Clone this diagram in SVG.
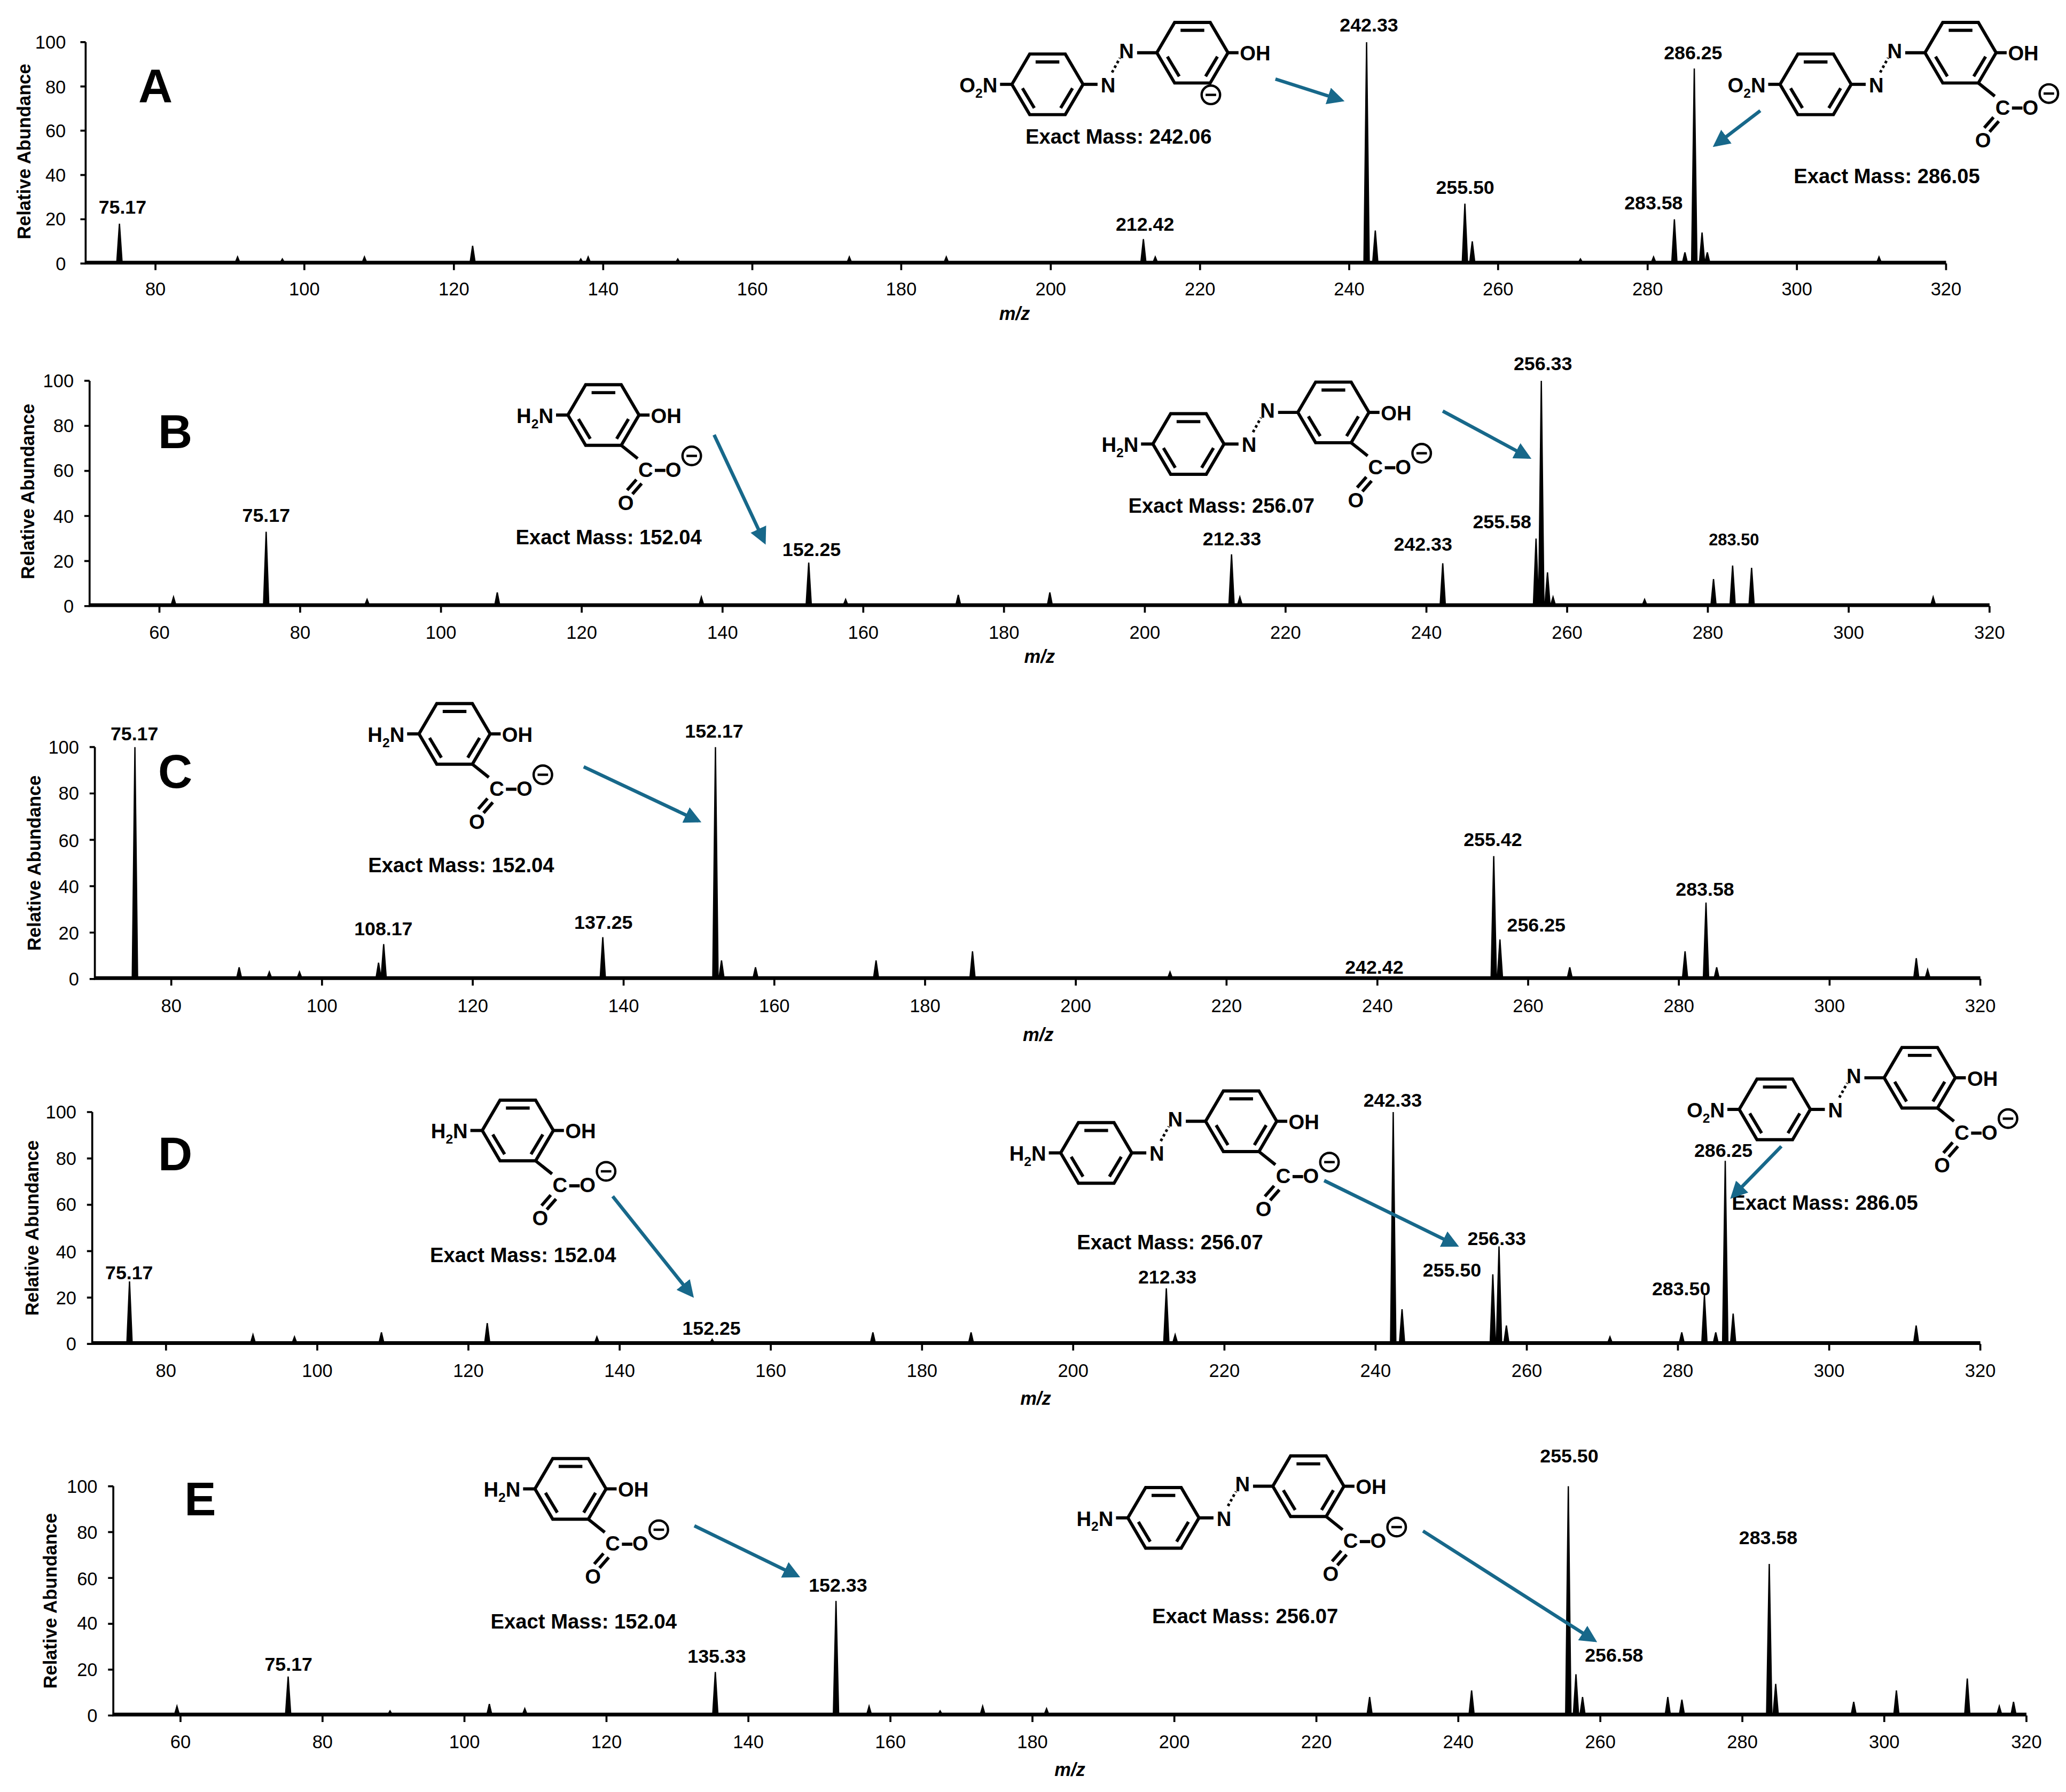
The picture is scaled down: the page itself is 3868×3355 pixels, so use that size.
<svg xmlns="http://www.w3.org/2000/svg" xmlns:xlink="http://www.w3.org/1999/xlink" width="3868" height="3355" viewBox="0 0 3868 3355">
<style>
text{font-family:"Liberation Sans",Arial,sans-serif;fill:#000}
.lb{font-size:14.5px;font-weight:bold;text-anchor:middle}
.tk{font-size:14px;text-anchor:middle}
.yt{font-size:14px;text-anchor:end}
.ax{font-size:14px;font-weight:bold}
.pl{font-size:36px;font-weight:bold}
.at{font-size:15.5px;font-weight:bold}
.ax2{stroke:#000;stroke-width:1.5;fill:none}
.bl{stroke:#000;stroke-width:2.2;fill:none}
.pk{fill:#000;stroke:#000;stroke-width:1}
.bd{stroke:#000;stroke-width:2.4;fill:none}
.arr{stroke:#17688a;stroke-width:2.6;fill:none;marker-end:url(#ah)}
</style>
<defs>
<marker id="ah" viewBox="0 0 10 10" refX="8" refY="5" markerWidth="5" markerHeight="5" orient="auto" markerUnits="strokeWidth"><path d="M0,0 L10,5 L0,10 z" fill="#17688a"/></marker>
<g id="ring"><polygon points="-27,0 -13.5,-23 13.5,-23 27,0 13.5,23 -13.5,23" class="bd"/><path d="M-9,-17 L9,-17 M-19,3 L-10,18 M19,3 L10,18" class="bd"/></g>
<g id="minus"><circle r="7" fill="none" stroke="#000" stroke-width="1.8"/><path d="M-4,0 L4,0" stroke="#000" stroke-width="1.8"/></g>
<g id="sal">
<use xlink:href="#ring"/>
<path d="M27,0 L35,0" class="bd"/><text x="36" y="6" class="at">OH</text>
<path d="M13.5,23 L26,33" class="bd"/>
<text x="32" y="47" class="at" text-anchor="middle">C</text>
<path d="M39,42 L47,42" class="bd"/>
<text x="53" y="47" class="at" text-anchor="middle">O</text>
<use xlink:href="#minus" x="67" y="31"/>
<path d="M25,49 L18,57 M29,52 L22,60" class="bd" stroke-width="1.6"/>
<text x="17" y="72" class="at" text-anchor="middle">O</text>
</g>
<g id="azo">
<use xlink:href="#ring" x="-110" y="24"/>
<path d="M-83,24 L-72,24" class="bd"/>
<text x="-64" y="30" class="at" text-anchor="middle">N</text>
<path d="M-61,15 L-55,4" stroke="#000" stroke-width="2" stroke-dasharray="2,2"/>
<text x="-50" y="4" class="at" text-anchor="middle">N</text>
<path d="M-42,0 L-27,0" class="bd"/>
<path d="M-137,24 L-146,24" class="bd"/>
</g>
</defs>
<rect width="3868" height="3355" fill="#fff"/>
<g transform="scale(2.4668)">
<!-- Panel A -->
<g id="panelA">
<path d="M65,32 L65,200 L1477,200" class="ax2"/>
<g class="tk"><text x="118" y="224">80</text><text x="231" y="224">100</text><text x="344.5" y="224">120</text><text x="457.8" y="224">140</text><text x="571" y="224">160</text><text x="684" y="224">180</text><text x="797.5" y="224">200</text><text x="910.8" y="224">220</text><text x="1024" y="224">240</text><text x="1137" y="224">260</text><text x="1250.5" y="224">280</text><text x="1363.8" y="224">300</text><text x="1477" y="224">320</text></g>
<path d="M118,200v5M231,200v5M344.5,200v5M457.8,200v5M571,200v5M684,200v5M797.5,200v5M910.8,200v5M1024,200v5M1137,200v5M1250.5,200v5M1363.8,200v5M1477,200v5M65,200h-4M65,166.4h-4M65,132.8h-4M65,99.2h-4M65,65.6h-4M65,32h-4" class="ax2"/>
<g class="yt"><text x="50" y="205">0</text><text x="50" y="171">20</text><text x="50" y="138">40</text><text x="50" y="104">60</text><text x="50" y="71">80</text><text x="50" y="37">100</text></g>
<text class="ax" transform="translate(23,115) rotate(-90)" text-anchor="middle">Relative Abundance</text>
<text class="ax" x="770" y="243" text-anchor="middle" font-style="italic">m/z</text>
<text class="pl" x="105" y="78">A</text>
<path d="M65,199 L1477,199" class="bl"/>
<path class="pk" d="M88.6,200L90.65,169.8L92.7,200ZM178.3,200L180.3,195L182.3,200ZM212.3,200L214.3,196.6L216.3,200ZM274.6,200L276.6,195L278.6,200ZM356.7,200L358.7,186.6L360.7,200ZM438.8,200L440.8,196.6L442.8,200ZM444.4,200L446.4,195L448.4,200ZM512.4,200L514.4,196.6L516.4,200ZM642.6,200L644.6,195L646.6,200ZM716.2,200L718.2,195L720.2,200ZM865.8,200L867.8,181.5L869.8,200ZM874.8,200L876.8,195L878.8,200ZM1035.2,200L1037.2,32L1039.2,200ZM1041.8,200L1043.8,175L1045.8,200ZM1109.8,200L1111.8,154.6L1113.8,200ZM1115.4,200L1117.4,183.2L1119.4,200ZM1197.5,200L1199.5,196.6L1201.5,200ZM1253,200L1255,195L1257,200ZM1268.8,200L1270.8,166.4L1272.8,200ZM1276.8,200L1278.8,191.6L1280.8,200ZM1283.9,200L1285.9,52L1287.9,200ZM1289.8,200L1291.8,176.5L1293.8,200ZM1293.8,200L1295.8,191.6L1297.8,200ZM1424.1,200L1426.1,195L1428.1,200Z"/>
<g class="lb"><text x="93" y="162">75.17</text><text x="869" y="175">212.42</text><text x="1039" y="24">242.33</text><text x="1112" y="147">255.50</text><text x="1255" y="159">283.58</text><text x="1285" y="45">286.25</text></g>
<use xlink:href="#ring" x="905" y="40"/>
<path d="M932,40 L940,40" class="bd"/><text x="941" y="46" class="at">OH</text>
<use xlink:href="#minus" x="919" y="72"/>
<use xlink:href="#ring" x="795" y="64"/>
<path d="M822,64 L833,64" class="bd"/><text x="841" y="70" class="at" text-anchor="middle">N</text>
<path d="M844,55 L850,44" stroke="#000" stroke-width="2" stroke-dasharray="2,2"/>
<text x="855" y="44" class="at" text-anchor="middle">N</text>
<path d="M863,40 L878,40" class="bd"/>
<path d="M768,64 L759,64" class="bd"/>
<text x="757" y="70" class="at" text-anchor="end">O<tspan font-size="10" dy="4">2</tspan><tspan dy="-4">N</tspan></text>
<text x="849" y="109" class="at" text-anchor="middle">Exact Mass: 242.06</text>
<path d="M968,60 L1018,76" class="arr"/>
<use xlink:href="#sal" x="1488" y="40"/><use xlink:href="#azo" x="1488" y="40"/>
<text x="1340" y="70" class="at" text-anchor="end">O<tspan font-size="10" dy="4">2</tspan><tspan dy="-4">N</tspan></text>
<text x="1432" y="139" class="at" text-anchor="middle">Exact Mass: 286.05</text>
<path d="M1336,84 L1302,110" class="arr"/>
</g>
<!-- Panel B -->
<g id="panelB">
<path d="M68,289 L68,460 L1510,460" class="ax2"/>
<g class="tk"><text x="121" y="485">60</text><text x="227.8" y="485">80</text><text x="334.7" y="485">100</text><text x="441.5" y="485">120</text><text x="548.4" y="485">140</text><text x="655.2" y="485">160</text><text x="762" y="485">180</text><text x="868.9" y="485">200</text><text x="975.7" y="485">220</text><text x="1082.6" y="485">240</text><text x="1189.4" y="485">260</text><text x="1296.2" y="485">280</text><text x="1403.1" y="485">300</text><text x="1510" y="485">320</text></g>
<path d="M121,460v5M227.8,460v5M334.7,460v5M441.5,460v5M548.4,460v5M655.2,460v5M762,460v5M868.9,460v5M975.7,460v5M1082.6,460v5M1189.4,460v5M1296.2,460v5M1403.1,460v5M1510,460v5M68,460h-4M68,425.8h-4M68,391.6h-4M68,357.4h-4M68,323.2h-4M68,289h-4" class="ax2"/>
<g class="yt"><text x="56" y="465">0</text><text x="56" y="431">20</text><text x="56" y="397">40</text><text x="56" y="362">60</text><text x="56" y="328">80</text><text x="56" y="294">100</text></g>
<text class="ax" transform="translate(26,373) rotate(-90)" text-anchor="middle">Relative Abundance</text>
<text class="ax" x="789" y="503" text-anchor="middle" font-style="italic">m/z</text>
<text class="pl" x="120" y="340">B</text>
<path d="M68,459 L1510,459" class="bl"/>
<path class="pk" d="M129.7,460L131.7,453.2L133.7,460ZM200,460L202,403.6L204,460ZM276.6,460L278.6,455L280.6,460ZM375.4,460L377.4,449.7L379.4,460ZM530.3,460L532.3,453.2L534.3,460ZM611.8,460L613.8,427L615.8,460ZM639.8,460L641.8,455L643.8,460ZM725.3,460L727.3,451.5L729.3,460ZM794.8,460L796.8,449.7L798.8,460ZM932.7,460L934.7,420.7L936.7,460ZM939,460L941,453.2L943,460ZM1093,460L1095,427.5L1097,460ZM1163.8,460L1165.8,408.7L1167.8,460ZM1167.8,460L1169.8,289L1171.8,460ZM1172.5,460L1174.5,434.4L1176.5,460ZM1176.7,460L1178.7,453.2L1180.7,460ZM1246.2,460L1248.2,455L1250.2,460ZM1298.5,460L1300.5,439.5L1302.5,460ZM1313,460L1315,429.2L1317,460ZM1327.4,460L1329.4,431L1331.4,460ZM1465.2,460L1467.2,453.2L1469.2,460Z"/>
<g class="lb"><text x="202" y="396">75.17</text><text x="616" y="422">152.25</text><text x="935" y="414">212.33</text><text x="1080" y="418">242.33</text><text x="1140" y="401">255.58</text><text x="1171" y="281">256.33</text><text x="1316" y="414" font-size="12.5">283.50</text></g>
<use xlink:href="#sal" x="458" y="315"/>
<path d="M431,315 L422,315" class="bd"/>
<text x="420" y="321" class="at" text-anchor="end">H<tspan font-size="10" dy="4">2</tspan><tspan dy="-4">N</tspan></text>
<text x="462" y="413" class="at" text-anchor="middle">Exact Mass: 152.04</text>
<path d="M542,330 L580,411" class="arr"/>
<use xlink:href="#sal" x="1012" y="313"/><use xlink:href="#azo" x="1012" y="313"/>
<text x="864" y="343" class="at" text-anchor="end">H<tspan font-size="10" dy="4">2</tspan><tspan dy="-4">N</tspan></text>
<text x="927" y="389" class="at" text-anchor="middle">Exact Mass: 256.07</text>
<path d="M1095,312 L1160,347" class="arr"/>
</g>
<!-- Panel C -->
<g id="panelC">
<path d="M72,567 L72,743 L1503,743" class="ax2"/>
<g class="tk"><text x="130" y="768">80</text><text x="244.4" y="768">100</text><text x="358.8" y="768">120</text><text x="473.3" y="768">140</text><text x="587.7" y="768">160</text><text x="702.1" y="768">180</text><text x="816.5" y="768">200</text><text x="930.9" y="768">220</text><text x="1045.4" y="768">240</text><text x="1159.8" y="768">260</text><text x="1274.2" y="768">280</text><text x="1388.6" y="768">300</text><text x="1503" y="768">320</text></g>
<path d="M130,743v5M244.4,743v5M358.8,743v5M473.3,743v5M587.7,743v5M702.1,743v5M816.5,743v5M930.9,743v5M1045.4,743v5M1159.8,743v5M1274.2,743v5M1388.6,743v5M1503,743v5M72,743h-4M72,707.8h-4M72,672.6h-4M72,637.4h-4M72,602.2h-4M72,567h-4" class="ax2"/>
<g class="yt"><text x="60" y="748">0</text><text x="60" y="713">20</text><text x="60" y="678">40</text><text x="60" y="643">60</text><text x="60" y="607">80</text><text x="60" y="572">100</text></g>
<text class="ax" transform="translate(31,655) rotate(-90)" text-anchor="middle">Relative Abundance</text>
<text class="ax" x="788" y="790" text-anchor="middle" font-style="italic">m/z</text>
<text class="pl" x="120" y="598">C</text>
<path d="M72,742 L1503,742" class="bl"/>
<path class="pk" d="M100.4,743L102.4,567L104.4,743ZM179.5,743L181.5,734.2L183.5,743ZM202.4,743L204.4,737.7L206.4,743ZM225.3,743L227.3,737.7L229.3,743ZM285.3,743L287.3,730.7L289.3,743ZM289.2,743L291.2,716.6L293.2,743ZM455.5,743L457.5,711.3L459.5,743ZM541,743L543,567L545,743ZM545.6,743L547.6,729L549.6,743ZM571.4,743L573.4,734.2L575.4,743ZM662.9,743L664.9,729L666.9,743ZM736.1,743L738.1,722L740.1,743ZM886,743L888,737.7L890,743ZM1131.7,743L1133.7,649.7L1135.7,743ZM1136.4,743L1138.4,713L1140.4,743ZM1189.4,743L1191.4,734.2L1193.4,743ZM1276.9,743L1278.9,722L1280.9,743ZM1292.8,743L1294.8,685L1296.8,743ZM1300.9,743L1302.9,734.2L1304.9,743ZM1452.4,743L1454.4,727.2L1456.4,743ZM1461,743L1463,736L1465,743Z"/>
<g class="lb"><text x="102" y="562">75.17</text><text x="291" y="710">108.17</text><text x="458" y="705">137.25</text><text x="542" y="560">152.17</text><text x="1133" y="642">255.42</text><text x="1166" y="707">256.25</text><text x="1043" y="739">242.42</text><text x="1294" y="680">283.58</text></g>
<use xlink:href="#sal" x="345" y="557"/>
<path d="M318,557 L309,557" class="bd"/>
<text x="307" y="563" class="at" text-anchor="end">H<tspan font-size="10" dy="4">2</tspan><tspan dy="-4">N</tspan></text>
<text x="350" y="662" class="at" text-anchor="middle">Exact Mass: 152.04</text>
<path d="M443,582 L530,623" class="arr"/>
</g>
<!-- Panel D -->
<g id="panelD">
<path d="M70,844 L70,1020 L1503,1020" class="ax2"/>
<g class="tk"><text x="126" y="1045">80</text><text x="240.8" y="1045">100</text><text x="355.5" y="1045">120</text><text x="470.3" y="1045">140</text><text x="585" y="1045">160</text><text x="699.8" y="1045">180</text><text x="814.5" y="1045">200</text><text x="929.3" y="1045">220</text><text x="1044" y="1045">240</text><text x="1158.8" y="1045">260</text><text x="1273.5" y="1045">280</text><text x="1388.3" y="1045">300</text><text x="1503" y="1045">320</text></g>
<path d="M126,1020v5M240.8,1020v5M355.5,1020v5M470.3,1020v5M585,1020v5M699.8,1020v5M814.5,1020v5M929.3,1020v5M1044,1020v5M1158.8,1020v5M1273.5,1020v5M1388.3,1020v5M1503,1020v5M70,1020h-4M70,984.8h-4M70,949.6h-4M70,914.4h-4M70,879.2h-4M70,844h-4" class="ax2"/>
<g class="yt"><text x="58" y="1025">0</text><text x="58" y="990">20</text><text x="58" y="955">40</text><text x="58" y="919">60</text><text x="58" y="884">80</text><text x="58" y="849">100</text></g>
<text class="ax" transform="translate(29,932) rotate(-90)" text-anchor="middle">Relative Abundance</text>
<text class="ax" x="786" y="1066" text-anchor="middle" font-style="italic">m/z</text>
<text class="pl" x="120" y="888">D</text>
<path d="M70,1019 L1503,1019" class="bl"/>
<path class="pk" d="M96.3,1020L98.3,972.5L100.3,1020ZM190,1020L192,1013L194,1020ZM221.5,1020L223.5,1014.7L225.5,1020ZM287.5,1020L289.5,1011.2L291.5,1020ZM367.8,1020L369.8,1004.2L371.8,1020ZM451,1020L453,1014.7L455,1020ZM538.5,1020L540.5,1016.5L542.5,1020ZM660.5,1020L662.5,1011.2L664.5,1020ZM735,1020L737,1011.2L739,1020ZM883.2,1020L885.2,977.8L887.2,1020ZM889.9,1020L891.9,1013L893.9,1020ZM1055.4,1020L1057.4,844L1059.4,1020ZM1062.1,1020L1064.1,993.6L1066.1,1020ZM1131,1020L1133,967.2L1135,1020ZM1135.7,1020L1137.7,946L1139.7,1020ZM1141.3,1020L1143.3,1006L1145.3,1020ZM1219.9,1020L1221.9,1014.7L1223.9,1020ZM1274.4,1020L1276.4,1011.2L1278.4,1020ZM1291.6,1020L1293.6,983L1295.6,1020ZM1300.2,1020L1302.2,1011.2L1304.2,1020ZM1307.4,1020L1309.4,881L1311.4,1020ZM1313.4,1020L1315.4,997L1317.4,1020ZM1452.3,1020L1454.3,1006L1456.3,1020Z"/>
<g class="lb"><text x="98" y="971">75.17</text><text x="540" y="1013">152.25</text><text x="886" y="974">212.33</text><text x="1057" y="840">242.33</text><text x="1102" y="969">255.50</text><text x="1136" y="945">256.33</text><text x="1276" y="983">283.50</text><text x="1308" y="878">286.25</text></g>
<use xlink:href="#sal" x="393" y="858"/>
<path d="M366,858 L357,858" class="bd"/>
<text x="355" y="864" class="at" text-anchor="end">H<tspan font-size="10" dy="4">2</tspan><tspan dy="-4">N</tspan></text>
<text x="397" y="958" class="at" text-anchor="middle">Exact Mass: 152.04</text>
<path d="M465,908 L525,983" class="arr"/>
<use xlink:href="#sal" x="942" y="851"/><use xlink:href="#azo" x="942" y="851"/>
<text x="794" y="881" class="at" text-anchor="end">H<tspan font-size="10" dy="4">2</tspan><tspan dy="-4">N</tspan></text>
<text x="888" y="948" class="at" text-anchor="middle">Exact Mass: 256.07</text>
<path d="M1005,896 L1105,945" class="arr"/>
<use xlink:href="#sal" x="1457" y="818"/><use xlink:href="#azo" x="1457" y="818"/>
<text x="1309" y="848" class="at" text-anchor="end">O<tspan font-size="10" dy="4">2</tspan><tspan dy="-4">N</tspan></text>
<text x="1385" y="918" class="at" text-anchor="middle">Exact Mass: 286.05</text>
<path d="M1352,870 L1315,908" class="arr"/>
</g>
<!-- Panel E -->
<g id="panelE">
<path d="M86,1128 L86,1302 L1538,1302" class="ax2"/>
<g class="tk"><text x="137" y="1327">60</text><text x="244.8" y="1327">80</text><text x="352.5" y="1327">100</text><text x="460.3" y="1327">120</text><text x="568" y="1327">140</text><text x="675.8" y="1327">160</text><text x="783.6" y="1327">180</text><text x="891.3" y="1327">200</text><text x="999.1" y="1327">220</text><text x="1106.8" y="1327">240</text><text x="1214.6" y="1327">260</text><text x="1322.4" y="1327">280</text><text x="1430.1" y="1327">300</text><text x="1538" y="1327">320</text></g>
<path d="M137,1302v5M244.8,1302v5M352.5,1302v5M460.3,1302v5M568,1302v5M675.8,1302v5M783.6,1302v5M891.3,1302v5M999.1,1302v5M1106.8,1302v5M1214.6,1302v5M1322.4,1302v5M1430.1,1302v5M1538,1302v5M86,1302h-4M86,1267.2h-4M86,1232.4h-4M86,1197.6h-4M86,1162.8h-4M86,1128h-4" class="ax2"/>
<g class="yt"><text x="74" y="1307">0</text><text x="74" y="1272">20</text><text x="74" y="1237">40</text><text x="74" y="1203">60</text><text x="74" y="1168">80</text><text x="74" y="1133">100</text></g>
<text class="ax" transform="translate(43,1215) rotate(-90)" text-anchor="middle">Relative Abundance</text>
<text class="ax" x="812" y="1348" text-anchor="middle" font-style="italic">m/z</text>
<text class="pl" x="140" y="1150">E</text>
<path d="M86,1301 L1538,1301" class="bl"/>
<path class="pk" d="M132.3,1302L134.3,1295L136.3,1302ZM216.7,1302L218.7,1272.4L220.7,1302ZM294,1302L296,1298.5L298,1302ZM369.4,1302L371.4,1293.3L373.4,1302ZM396.3,1302L398.3,1296.8L400.3,1302ZM540.9,1302L542.9,1269L544.9,1302ZM632.5,1302L634.5,1215L636.5,1302ZM657.6,1302L659.6,1295L661.6,1302ZM711.5,1302L713.5,1298.5L715.5,1302ZM743.8,1302L745.8,1295L747.8,1302ZM792.3,1302L794.3,1296.8L796.3,1302ZM1037.5,1302L1039.5,1288L1041.5,1302ZM1114.9,1302L1116.9,1283L1118.9,1302ZM1188.3,1302L1190.3,1128L1192.3,1302ZM1194.1,1302L1196.1,1270.7L1198.1,1302ZM1199.1,1302L1201.1,1288L1203.1,1302ZM1263.8,1302L1265.8,1288L1267.8,1302ZM1274.5,1302L1276.5,1290L1278.5,1302ZM1340.8,1302L1342.8,1187L1344.8,1302ZM1345.7,1302L1347.7,1278L1349.7,1302ZM1404.9,1302L1406.9,1291.6L1408.9,1302ZM1437.3,1302L1439.3,1283L1441.3,1302ZM1491.1,1302L1493.1,1274L1495.1,1302ZM1515.4,1302L1517.4,1295L1519.4,1302ZM1526.2,1302L1528.2,1291.6L1530.2,1302Z"/>
<g class="lb"><text x="219" y="1268">75.17</text><text x="544" y="1262">135.33</text><text x="636" y="1208">152.33</text><text x="1191" y="1110">255.50</text><text x="1225" y="1261">256.58</text><text x="1342" y="1172">283.58</text></g>
<use xlink:href="#sal" x="433" y="1130"/>
<path d="M406,1130 L397,1130" class="bd"/>
<text x="395" y="1136" class="at" text-anchor="end">H<tspan font-size="10" dy="4">2</tspan><tspan dy="-4">N</tspan></text>
<text x="443" y="1236" class="at" text-anchor="middle">Exact Mass: 152.04</text>
<path d="M527,1158 L605,1196" class="arr"/>
<use xlink:href="#sal" x="993" y="1128"/><use xlink:href="#azo" x="993" y="1128"/>
<text x="845" y="1158" class="at" text-anchor="end">H<tspan font-size="10" dy="4">2</tspan><tspan dy="-4">N</tspan></text>
<text x="945" y="1232" class="at" text-anchor="middle">Exact Mass: 256.07</text>
<path d="M1080,1162 L1210,1245" class="arr"/>
</g>
</g>
</svg>
